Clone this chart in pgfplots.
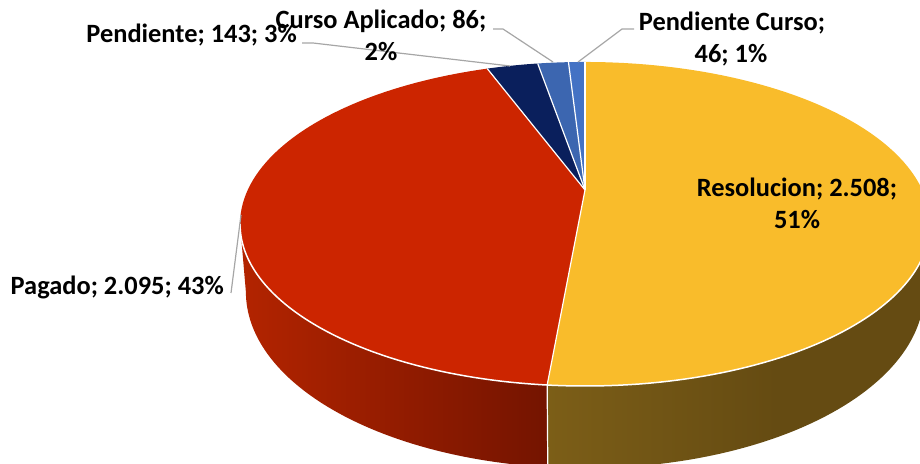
\documentclass[border=0pt]{standalone}
\usepackage{pgfplots}
\pgfplotsset{compat=1.18}
\usepackage{pgfplotstable}
\usepackage{fontspec}
\setmainfont{Carlito}
\definecolor{cRes}{HTML}{F9BC2B}
\definecolor{cPag}{HTML}{CC2500}
\definecolor{cPen}{HTML}{0A1F5C}
\definecolor{cCur}{HTML}{3C66B0}
\definecolor{cPC}{HTML}{4472C4}
\definecolor{leader}{HTML}{A6A6A6}
\definecolor{yA}{HTML}{8F6E1C}
\definecolor{yB}{HTML}{654B12}
\definecolor{rA}{HTML}{B32400}
\definecolor{rB}{HTML}{741400}
\pgfdeclarehorizontalshading{yside}{100bp}{color(0bp)=(yA); color(55bp)=(yB); color(100bp)=(yB)}
\newcommand\lbl{\bfseries\fontsize{26.5}{31}\selectfont}
\pgfplotstableread{
label value
Resolucion 2508
Pagado 2095
Pendiente 143
CursoAplicado 86
PendienteCurso 46
}\piedata
\begin{document}
\begin{tikzpicture}[declare function={
  w(\t)=1+0.2098*sin(\t);
  px(\t)=585+337.3*cos(\t)/w(\t);
  py(\t)=190-154.9*sin(\t)/w(\t);
  bx(\t)=px(\t)+(585-px(\t))*0.017;
  by(\t)=py(\t)+65/w(\t);}]
\pgfplotstablegetelem{0}{value}\of\piedata\edef\vA{\pgfplotsretval}
\pgfplotstablegetelem{1}{value}\of\piedata\edef\vB{\pgfplotsretval}
\pgfplotstablegetelem{2}{value}\of\piedata\edef\vC{\pgfplotsretval}
\pgfplotstablegetelem{3}{value}\of\piedata\edef\vD{\pgfplotsretval}
\pgfplotstablegetelem{4}{value}\of\piedata\edef\vE{\pgfplotsretval}
\pgfmathsetmacro\tot{\vA+\vB+\vC+\vD+\vE}
\pgfmathsetmacro\aA{90}
\pgfmathsetmacro\aB{\aA-360*(\vA/\tot)}
\pgfmathsetmacro\aC{\aB-360*(\vB/\tot)}
\pgfmathsetmacro\aD{\aC-360*(\vC/\tot)}
\pgfmathsetmacro\aE{\aD-360*(\vD/\tot)}
\pgfmathsetmacro\aF{\aE-360*(\vE/\tot)}
\pgfmathsetmacro\sil{asin(0.2098)}
\pgfmathsetmacro\silL{-180+\sil}
\pgfmathsetmacro\silR{-\sil}
\begin{axis}[name=ax, x=1bp, y=1bp, xmin=0, xmax=920, ymin=0, ymax=464,
  y dir=reverse, scale only axis, hide axis, enlargelimits=false, clip=true]
% sides
\shade[left color=rA, right color=rB]
  plot[domain=\silL:\aB, samples=60, variable=\t] ({px(\t)},{py(\t)})
  -- plot[domain=\aB:\silL, samples=60, variable=\t] ({bx(\t)},{by(\t)}) -- cycle;
\shade[shading=yside]
  plot[domain=\aB:\silR, samples=60, variable=\t] ({px(\t)},{py(\t)})
  -- plot[domain=\silR:\aB, samples=60, variable=\t] ({bx(\t)},{by(\t)}) -- cycle;
% top faces
\fill[cRes] (axis cs:585,190) -- plot[domain=\aB:\aA, samples=90, variable=\t] ({px(\t)},{py(\t)}) -- cycle;
\fill[cPag] (axis cs:585,190) -- plot[domain=\aC:\aB, samples=90, variable=\t] ({px(\t)},{py(\t)}) -- cycle;
\fill[cPen] (axis cs:585,190) -- plot[domain=\aD:\aC, samples=20, variable=\t] ({px(\t)},{py(\t)}) -- cycle;
\fill[cCur] (axis cs:585,190) -- plot[domain=\aE:\aD, samples=20, variable=\t] ({px(\t)},{py(\t)}) -- cycle;
\fill[cPC] (axis cs:585,190) -- plot[domain=\aF:\aE, samples=20, variable=\t] ({px(\t)},{py(\t)}) -- cycle;
% white borders
\draw[white, line width=1.5bp] plot[domain=\silL:\silR, samples=120, variable=\t] ({px(\t)},{py(\t)});
\draw[white, line width=1.2bp] (axis cs:585,190) -- ({px(\aA)},{py(\aA)});
\draw[white, line width=1.2bp] (axis cs:585,190) -- ({px(\aB)},{py(\aB)}) -- ({bx(\aB)},{by(\aB)});
\draw[white, line width=1.2bp] (axis cs:585,190) -- ({px(\aC)},{py(\aC)});
\draw[white, line width=1.2bp] (axis cs:585,190) -- ({px(\aD)},{py(\aD)});
\draw[white, line width=1.2bp] (axis cs:585,190) -- ({px(\aE)},{py(\aE)});
% leader lines
\draw[leader, line width=1.2bp] (axis cs:302,43) -- (axis cs:313,43) -- (axis cs:510,66);
\draw[leader, line width=1.2bp] (axis cs:493,29) -- (axis cs:503,29) -- (axis cs:553,62);
\draw[leader, line width=1.2bp] (axis cs:634,29) -- (axis cs:622,29) -- (axis cs:578,62);
\draw[leader, line width=1.2bp] (axis cs:231,293) -- (axis cs:241,215);
% labels
\node[anchor=base east, inner sep=0pt, font=\lbl] at (axis cs:297,43) {Pendiente; 143; 3\%};
\node[anchor=base, inner sep=0pt, font=\lbl] at (axis cs:381,29) {Curso Aplicado; 86;};
\node[anchor=base, inner sep=0pt, font=\lbl] at (axis cs:381,61) {2\%};
\node[anchor=base, inner sep=0pt, font=\lbl] at (axis cs:732,31) {Pendiente Curso;};
\node[anchor=base, inner sep=0pt, font=\lbl] at (axis cs:731,63) {46; 1\%};
\node[anchor=base, inner sep=0pt, font=\lbl] at (axis cs:797,197) {Resolucion; 2.508;};
\node[anchor=base, inner sep=0pt, font=\lbl] at (axis cs:797,229) {51\%};
\node[anchor=base east, inner sep=0pt, font=\lbl] at (axis cs:224,295) {Pagado; 2.095; 43\%};
\end{axis}
\pgfresetboundingbox
\useasboundingbox (ax.south west) rectangle (ax.north east);
\end{tikzpicture}
\end{document}
